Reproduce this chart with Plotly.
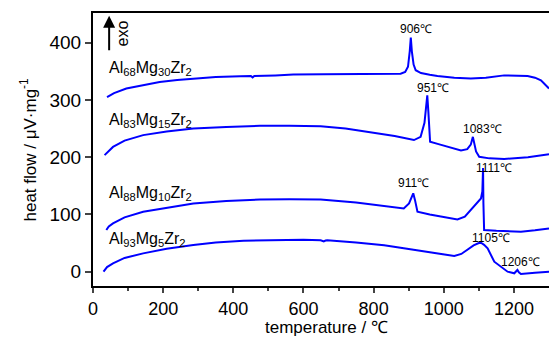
import plotly.graph_objects as go

# Al68Mg30Zr2
t1 = [40, 60, 95, 140, 190, 240, 286, 350, 420, 450, 455, 460, 520, 571, 657, 750, 830, 877, 890, 898, 903, 906, 909, 914, 920, 935, 960, 982, 1030, 1077, 1120, 1172, 1239, 1260, 1277, 1290, 1300]
h1 = [305, 312, 320, 326, 331.6, 335, 337.5, 340, 341.5, 342, 339.5, 342, 343, 344.5, 345, 345.5, 346, 346, 349, 358, 385, 409, 385, 362, 352, 347, 344, 342, 339, 337.5, 339, 343, 342, 339, 334.5, 327, 320]

# Al83Mg15Zr2
t2 = [33, 45, 57, 90, 143, 210, 286, 380, 476, 560, 649, 720, 791, 860, 915, 934, 945, 950, 953, 956, 961, 990, 1020, 1049, 1067, 1077, 1083, 1086, 1092, 1101, 1130, 1172, 1240, 1300]
h2 = [203.7, 211, 218, 229, 238.6, 245, 250, 253, 255, 255, 254, 250, 244, 237, 230, 235.6, 260, 295, 308, 280, 227, 222, 217, 212, 214, 222, 235.6, 228, 210, 200.7, 198, 197, 200, 205]

# Al88Mg10Zr2
t3 = [38, 45, 57, 90, 143, 210, 286, 380, 476, 560, 649, 750, 830, 886, 901, 908, 913, 918, 925, 960, 1000, 1039, 1060, 1077, 1095, 1106, 1110, 1112, 1113, 1115, 1150, 1220, 1260, 1300]
h3 = [72.8, 79, 84.5, 95, 104.7, 112, 119, 123.5, 126, 126.5, 126, 121, 115, 110.6, 119.4, 130, 137, 125, 104.7, 100, 96, 91.4, 96, 107.7, 120, 128, 140, 181, 120, 72.8, 71.5, 70, 72.5, 75.7]

# Al93Mg5Zr2
t4 = [30, 40, 57, 90, 143, 210, 286, 350, 429, 520, 600, 649, 658, 663, 668, 750, 830, 886, 960, 1030, 1050, 1067, 1085, 1100, 1106, 1115, 1125, 1144, 1165, 1182, 1201, 1207, 1210, 1214, 1220, 1260, 1300]
h4 = [0, 8, 14.6, 24, 32, 40, 46.6, 51, 54, 55.5, 56, 55, 53, 54.5, 55, 51, 46, 40.8, 34, 27.4, 31, 38, 46, 50, 50.6, 47, 40.8, 17.5, 7, 0, -2.8, 1, 3, -1, -4, -2, 0]

curves_t = [t1, t2, t3, t4]
curves_h = [h1, h2, h3, h4]

labels = ["Al<sub>68</sub>Mg<sub>30</sub>Zr<sub>2</sub>", "Al<sub>83</sub>Mg<sub>15</sub>Zr<sub>2</sub>",
          "Al<sub>88</sub>Mg<sub>10</sub>Zr<sub>2</sub>", "Al<sub>93</sub>Mg<sub>5</sub>Zr<sub>2</sub>"]
label_x = [40, 40, 40, 40]
label_y = [355, 265, 137, 57]

peak_text = ["906℃", "951℃", "1083℃", "911℃", "1111℃", "1105℃", "1206℃"]
peak_x = [920, 969, 1109, 914, 1142, 1136, 1220]
peak_y = [424, 320.6, 249, 155, 181, 59, 17.5]

x_ticks = [0, 200, 400, 600, 800, 1000, 1200]
y_ticks = [0, 100, 200, 300, 400]

FONT = "Liberation Sans, Arial, sans-serif"
fig = go.Figure()
for t, h in zip(curves_t, curves_h):
    fig.add_trace(go.Scatter(x=t, y=h, mode="lines", line=dict(color="#0000ff", width=2),
                             showlegend=False, hoverinfo="skip"))

annotations = []
for txt, lx, ly in zip(labels, label_x, label_y):
    annotations.append(dict(x=lx, y=ly, text=txt, showarrow=False, xanchor="left", yanchor="middle",
                            font=dict(family=FONT, size=16, color="black")))
for txt, px, py in zip(peak_text, peak_x, peak_y):
    annotations.append(dict(x=px, y=py, text=txt, showarrow=False, xanchor="center", yanchor="middle",
                            font=dict(family=FONT, size=12, color="black")))
# exo arrow
annotations.append(dict(x=46, y=447, ax=0, ay=36, text="", showarrow=True, arrowhead=2,
                        arrowsize=1.2, arrowwidth=2, arrowcolor="black", axref="pixel", ayref="pixel"))
annotations.append(dict(x=85, y=416, text="exo", showarrow=False, textangle=-90,
                        xanchor="center", yanchor="middle",
                        font=dict(family=FONT, size=16, color="black")))
# axis titles
annotations.append(dict(xref="paper", yref="paper", x=0, y=0.5, xshift=-65, xanchor="center", yanchor="middle",
                        text="heat flow / μV·mg<sup>-1</sup>",
                        textangle=-90, showarrow=False, font=dict(family=FONT, size=17, color="black")))
annotations.append(dict(xref="paper", yref="paper", x=0.513, y=0, yshift=-41, xanchor="center", yanchor="middle",
                        text="temperature / ℃",
                        showarrow=False, font=dict(family=FONT, size=17, color="black")))

fig.update_layout(
    width=549, height=338,
    margin=dict(l=93, r=0, t=13, b=52),
    plot_bgcolor="white", paper_bgcolor="white",
    annotations=annotations,
    xaxis=dict(range=[0, 1300], tickvals=x_ticks, ticks="outside", ticklen=5, tickwidth=1.5,
               showline=True, linewidth=2, linecolor="black", mirror=True, showgrid=False, zeroline=False,
               tickfont=dict(family=FONT, size=18, color="black"),
               minor=dict(tickvals=[100, 300, 500, 700, 900, 1100], ticks="outside", ticklen=3, tickwidth=1.5)),
    yaxis=dict(range=[-25, 452], tickvals=y_ticks, ticks="outside", ticklen=6, tickwidth=1.5,
               showline=True, linewidth=2, linecolor="black", showgrid=False, zeroline=False,
               tickfont=dict(family=FONT, size=19, color="black")),
)
fig.write_html("out.html")
